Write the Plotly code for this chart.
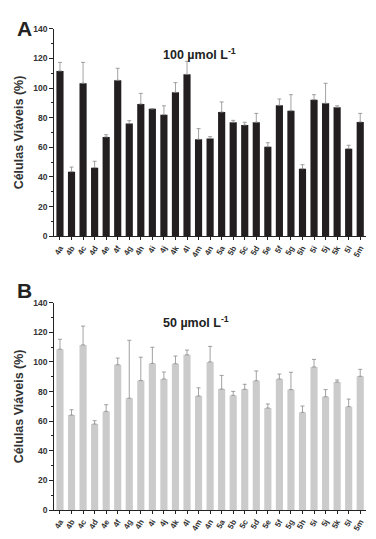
import plotly.graph_objects as go

categories = ["4a","4b","4c","4d","4e","4f","4g","4h","4i","4j","4k","4l","4m","4n",
              "5a","5b","5c","5d","5e","5f","5g","5h","5i","5j","5k","5l","5m"]

# Panel A: 100 umol/L
vals_100 = [111.5, 43.6, 103.2, 46.3, 67.0, 105.2, 76.0, 89.2, 86.0, 82.0, 97.1, 109.2, 65.4, 66.0,
            83.8, 76.9, 75.0, 76.9, 60.4, 88.3, 84.7, 45.6, 92.1, 89.7, 87.0, 59.1, 77.1]
errtop_100 = [117.3, 46.7, 117.3, 50.6, 68.5, 113.3, 78.0, 96.4, 86.0, 88.0, 103.6, 118.0, 72.6, 67.2,
              90.6, 78.2, 76.9, 82.9, 63.1, 92.6, 95.5, 48.3, 95.5, 103.2, 88.0, 61.4, 82.9]

# Panel B: 50 umol/L
vals_50 = [108.6, 64.1, 111.5, 58.1, 66.6, 98.1, 75.5, 87.4, 99.0, 88.5, 98.8, 104.8, 77.0, 100.0,
           81.7, 77.4, 81.5, 87.3, 68.9, 88.5, 81.3, 65.9, 96.6, 76.5, 86.4, 69.8, 90.3]
errtop_50 = [115.3, 67.7, 124.2, 60.3, 71.1, 102.6, 114.6, 103.2, 109.9, 93.2, 104.0, 108.0, 82.5, 110.5,
             90.9, 80.1, 84.9, 93.9, 71.6, 91.8, 93.0, 70.2, 101.7, 81.3, 87.8, 74.9, 95.0]

yticks = [0, 20, 40, 60, 80, 100, 120, 140]

W, H = 376, 539
FONT = "Liberation Sans, Arial, sans-serif"

fig = go.Figure()

def add_panel(vals, tops, color, xa, ya):
    fig.add_trace(go.Bar(
        x=categories, y=vals, marker=dict(color=color, line=dict(width=0)),
        width=0.62, xaxis=xa, yaxis=ya, showlegend=False,
        error_y=dict(type="data", symmetric=False,
                     array=[t - v for t, v in zip(tops, vals)],
                     arrayminus=[0] * len(vals),
                     color="#8a8a8a", thickness=0.8, width=2),
    ))

add_panel(vals_100, errtop_100, "#231f20", "x", "y")
add_panel(vals_50, errtop_50, "#cbcbcb", "x2", "y2")

xdom = [54.2 / W, 366.0 / W]
domA = [1 - 236.3 / H, 1 - 28.7 / H]
domB = [1 - 510.0 / H, 1 - 302.7 / H]

tickfont = dict(family=FONT, size=8, color="#333333", weight="bold")
xcommon = dict(domain=xdom, type="category", range=[-0.5, 26.5], automargin=False,
               showline=True, linecolor="#222222", linewidth=1,
               ticks="outside", ticklen=3, tickcolor="#222222",
               tickangle=-60, tickfont=tickfont, showgrid=False, zeroline=False)
ycommon = dict(range=[0, 140], tickvals=yticks, showline=True, linecolor="#222222",
               linewidth=1, ticks="outside", ticklen=4, tickcolor="#222222", automargin=False,
               tickfont=dict(family=FONT, size=8.5, color="#333333", weight="bold"),
               showgrid=False, zeroline=False,
               minor=dict(dtick=10, ticks="outside", ticklen=2, tickcolor="#222222"),
               title=dict(text="Células Viáveis (%)", standoff=6,
                          font=dict(family=FONT, size=12.5, color="#333333", weight="bold")))

fig.update_layout(
    width=W, height=H, margin=dict(l=0, r=0, t=0, b=0, autoexpand=False),
    paper_bgcolor="white", plot_bgcolor="white",
    xaxis=dict(xcommon, anchor="y"),
    yaxis=dict(ycommon, domain=domA, anchor="x"),
    xaxis2=dict(xcommon, anchor="y2"),
    yaxis2=dict(ycommon, domain=domB, anchor="x2"),
    bargap=0.4,
)

ann_font = dict(family=FONT, size=12.5, color="#222222", weight="bold")
fig.add_annotation(x=199 / W, y=1 - 44 / H, xref="paper", yref="paper",
                   text="100 µmol L<sup>-1</sup>", showarrow=False, font=ann_font)
fig.add_annotation(x=196 / W, y=1 - 322 / H, xref="paper", yref="paper",
                   text="50 µmol L<sup>-1</sup>", showarrow=False, font=ann_font)
letter_font = dict(family=FONT, size=21, color="#222222", weight="bold")
fig.add_annotation(x=15 / W, y=1 - 15 / H, xref="paper", yref="paper", text="A",
                   showarrow=False, font=letter_font)
fig.add_annotation(x=15 / W, y=1 - 290 / H, xref="paper", yref="paper", text="B",
                   showarrow=False, font=letter_font)

fig.write_html("out.html", config={"displayModeBar": False},
               post_script="document.body.style.margin='0';document.body.style.overflow='hidden';")
